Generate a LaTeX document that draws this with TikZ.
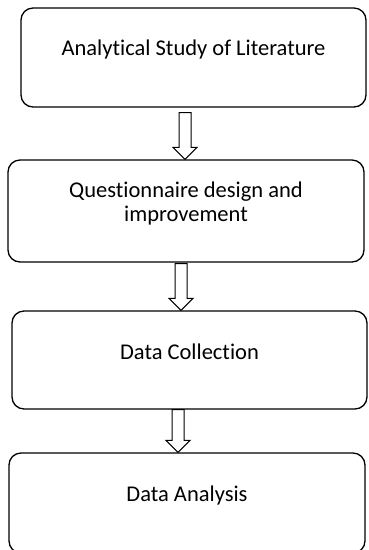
\documentclass[tikz,border=0pt]{standalone}
\usepackage{fontspec}
\setmainfont{Carlito}[Ligatures=NoCommon]
\usetikzlibrary{calc}

\begin{document}
\begin{tikzpicture}[
    x=1pt, y=-1pt,
    font=\fontsize{22.5}{24}\selectfont,
    stage/.style={draw, line width=1.3pt, rounded corners=12pt},
    every label/.style={align=center, yshift=8pt},
    hollow/.style={draw, line width=1pt, fill=white, line join=miter},
  ]
  \useasboundingbox (0,0) rectangle (368,550);

  % --- Stages -------------------------------------------------------------
  \node[stage, minimum width=345pt, minimum height=99pt,
        label={center:Analytical Study of Literature}] (lit) at (193.5,57.5) {};
  \node[stage, minimum width=356pt, minimum height=102pt,
        label={center:Questionnaire design and\\improvement}] (quest) at (186,211) {};
  \node[stage, minimum width=355pt, minimum height=98pt,
        label={center:Data Collection}] (coll) at (189.5,360) {};
  \node[stage, minimum width=356pt, minimum height=100pt,
        label={center:Data Analysis}] (anal) at (187,503) {};

  % --- Block arrows -------------------------------------------------------
  \foreach \a/\b/\dx/\gap in {lit/quest/-1/5, quest/coll/-8.5/1, coll/anal/-9/0}
    \draw[hollow] let \p1=($(\b.north)+(\dx,0)$), \p2=(\a.south) in
      (\x1-6pt,\y2-\gap*1pt) -- (\x1-6pt,\y1+12pt) -- (\x1-12pt,\y1+12pt)
      -- (\x1,\y1) -- (\x1+12pt,\y1+12pt) -- (\x1+6pt,\y1+12pt)
      -- (\x1+6pt,\y2-\gap*1pt) -- cycle;

\end{tikzpicture}
\end{document}
